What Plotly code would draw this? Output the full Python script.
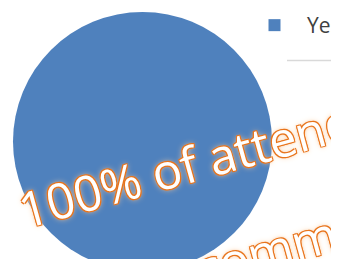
import plotly.graph_objects as go

labels = ["Yes"]
values = [100]
slice_colors = ["#4F81BD"]
headline_1 = "100% of attendees"
headline_2 = "recommend"

# page body adds an 8px margin; work in reference-pixel coordinates
OFF = 8
W, H = 331, 263
TOP = 4
PH = H - TOP

def px(x):
    return (x - OFF) / W

def py(y):
    return 1 - (y - OFF - TOP) / PH

fig = go.Figure()
fig.add_trace(go.Pie(
    labels=labels,
    values=values,
    marker=dict(colors=slice_colors, line=dict(width=0)),
    textinfo="none",
    hoverinfo="label+percent",
    sort=False,
    domain=dict(x=[0, 269 / W], y=[0, 1]),
    showlegend=True,
))

shadow = ("-1px -1px 0 #E8741C, 1px -1px 0 #E8741C, -1px 1px 0 #E8741C, "
          "1px 1px 0 #E8741C, 0 0 3px #F79646, 0 0 6px #FAD2AA")
text_font = dict(family="Open Sans", size=49, color="white", shadow=shadow)

fig.add_annotation(text=headline_1, xref="paper", yref="paper",
                   x=px(224), y=py(154), xanchor="center", yanchor="middle",
                   textangle=-15.5, showarrow=False, font=text_font)
fig.add_annotation(text=headline_2, xref="paper", yref="paper",
                   x=px(285), y=py(245), xanchor="center", yanchor="middle",
                   textangle=-15.5, showarrow=False, font=text_font)

fig.add_shape(type="line", xref="paper", yref="paper",
              x0=px(287), x1=px(345), y0=py(60.5), y1=py(60.5),
              line=dict(color="#D9D9D9", width=1.5))

fig.update_layout(
    width=W, height=H,
    margin=dict(l=0, r=0, t=TOP, b=0, autoexpand=False),
    paper_bgcolor="white", plot_bgcolor="white",
    legend=dict(x=px(242), y=py(5), xanchor="left", yanchor="top",
                font=dict(family="Open Sans", size=21, color="#404040"),
                itemwidth=55, bgcolor="rgba(0,0,0,0)", borderwidth=0),
    showlegend=True,
)

fig.write_html("out.html")
